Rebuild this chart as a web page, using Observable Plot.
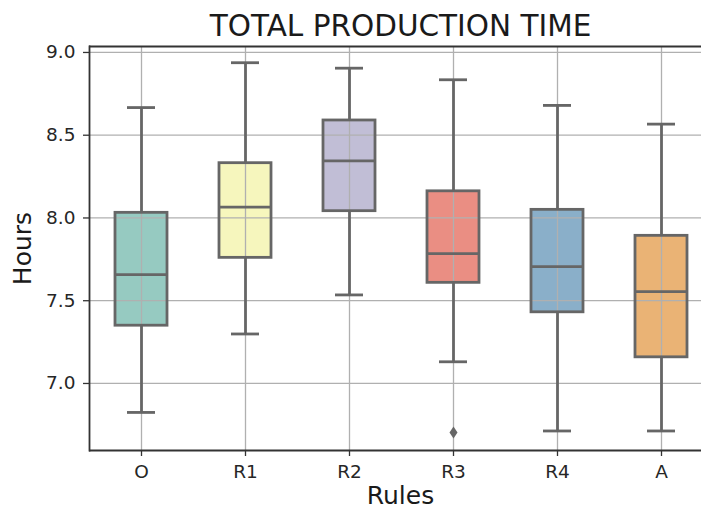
<!DOCTYPE html>
<html>
<head>
<meta charset="utf-8">
<script src="https://cdn.jsdelivr.net/npm/d3@7"></script>
<script src="https://cdn.jsdelivr.net/npm/@observablehq/plot@0.6"></script>
<style>
  html, body { margin: 0; padding: 0; background: #fff; }
</style>
</head>
<body>
<div id="chart"></div>
<script>
const rules = ["O", "R1", "R2", "R3", "R4", "A"];
const whiskerLow  = [6.825, 7.299, 7.535, 7.131, 6.713, 6.713];
const q1          = [7.349, 7.759, 8.041, 7.608, 7.430, 7.158];
const median      = [7.658, 8.065, 8.345, 7.785, 7.706, 7.555];
const q3          = [8.031, 8.331, 8.589, 8.161, 8.049, 7.892];
const whiskerHigh = [8.667, 8.938, 8.905, 8.835, 8.680, 8.567];
const outlierRule = ["R3"];
const outlierValue = [6.704];
const boxColors = ["#96cac1", "#f6f6bd", "#c1bed6", "#ea8e83", "#8aafc9", "#eab375"];
const yTicks = [7.0, 7.5, 8.0, 8.5, 9.0];
const title = "TOTAL PRODUCTION TIME";
const xLabel = "Rules";
const yLabel = "Hours";

const boxes = rules.map((r, i) => ({
  rule: r, low: whiskerLow[i], q1: q1[i], median: median[i], q3: q3[i], high: whiskerHigh[i]
}));
const outliers = outlierRule.map((r, i) => ({rule: r, value: outlierValue[i]}));

const lineColor = "#666666";
const lw = 2.8;

const thinDiamond = {
  draw(context, size) {
    const h = 6, w = 4;
    context.moveTo(0, -h);
    context.lineTo(w, 0);
    context.lineTo(0, h);
    context.lineTo(-w, 0);
    context.closePath();
  }
};

const chart = Plot.plot({
  width: 701,
  height: 513,
  marginLeft: 89,
  marginRight: 0,
  marginTop: 46,
  marginBottom: 63,
  style: {fontFamily: "DejaVu Sans", fontSize: "18.5px", color: "#262626", background: "#fff"},
  x: {domain: rules, range: [89, 713], padding: 0, label: null, axis: null},
  y: {domain: [6.595, 9.036], label: null, axis: null},
  color: {domain: rules, range: boxColors},
  marks: [
    Plot.barY(boxes, {x: "rule", y1: "q1", y2: "q3", fill: "rule", insetLeft: 26, insetRight: 26}),
    Plot.ruleY(yTicks, {stroke: "#b0b0b0", strokeWidth: 1.3}),
    Plot.ruleX(rules, {x: d => d, stroke: "#b0b0b0", strokeWidth: 1.3}),
    Plot.barY(boxes, {x: "rule", y1: "q1", y2: "q3", fill: "none", stroke: lineColor, strokeWidth: lw, insetLeft: 26, insetRight: 26}),
    Plot.ruleX(boxes, {x: "rule", y1: "q3", y2: "high", stroke: lineColor, strokeWidth: lw}),
    Plot.ruleX(boxes, {x: "rule", y1: "low", y2: "q1", stroke: lineColor, strokeWidth: lw}),
    Plot.tickY(boxes, {x: "rule", y: "high", stroke: lineColor, strokeWidth: lw, insetLeft: 38, insetRight: 38}),
    Plot.tickY(boxes, {x: "rule", y: "low", stroke: lineColor, strokeWidth: lw, insetLeft: 38, insetRight: 38}),
    Plot.tickY(boxes, {x: "rule", y: "median", stroke: lineColor, strokeWidth: lw, insetLeft: 26, insetRight: 26}),
    Plot.dot(outliers, {x: "rule", y: "value", symbol: thinDiamond, fill: lineColor, stroke: "none"}),
    Plot.axisY({ticks: yTicks, tickFormat: d3.format(".1f"), tickSize: 6, tickPadding: 8, stroke: "#333", strokeWidth: 1.3, fontSize: 18.5, fill: "#262626"}),
    Plot.axisX({tickSize: 6, tickPadding: 8, stroke: "#333", strokeWidth: 1.3, fontSize: 18.5, fill: "#262626"}),
    Plot.ruleY([6.595, 9.036], {stroke: "#333", strokeWidth: 1.8}),
    Plot.frame({anchor: "left", stroke: "#333", strokeWidth: 1.8}),
    Plot.text([title], {frameAnchor: "top", dx: 5, dy: -11, lineAnchor: "bottom", fontSize: 29.5, fill: "#1a1a1a"}),
    Plot.text([yLabel], {frameAnchor: "left", dx: -67, rotate: -90, textAnchor: "middle", fontSize: 25, fill: "#1a1a1a"}),
    Plot.text([xLabel], {frameAnchor: "bottom", dx: 5, dy: 53, fontSize: 25, fill: "#1a1a1a"})
  ]
});
document.getElementById("chart").append(chart);
</script>
</body>
</html>
